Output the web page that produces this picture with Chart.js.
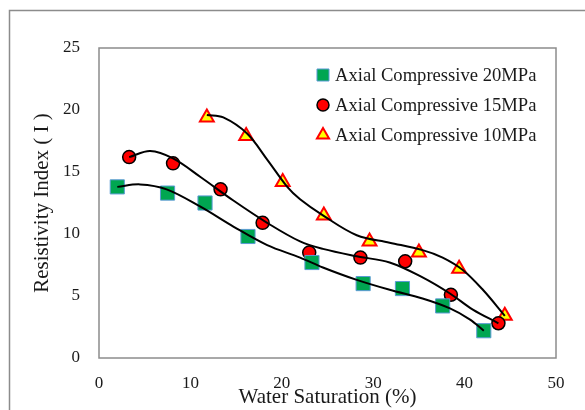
<!DOCTYPE html>
<html>
<head>
<meta charset="utf-8">
<script src="https://cdn.jsdelivr.net/npm/chart.js@4"></script>
<style>
  html, body { margin: 0; padding: 0; background: #fff; overflow: hidden; }
  #wrap { width: 585px; height: 410px; }
  canvas { display: block; }
</style>
</head>
<body>
<div id="wrap"><canvas id="chart" width="585" height="410"></canvas></div>
<script>
// measured points (water saturation %, resistivity index)
const seriesLabels = ['Axial Compressive 20MPa', 'Axial Compressive 15MPa', 'Axial Compressive 10MPa'];

const sw20 = [2.0, 7.5, 11.6, 16.3, 23.3, 28.9, 33.2, 37.6, 42.1];
const ri20 = [13.8, 13.3, 12.5, 9.8, 7.7, 6.0, 5.6, 4.2, 2.2];

const sw15 = [3.3, 8.1, 13.3, 17.9, 23.0, 28.6, 33.5, 38.5, 43.7];
const ri15 = [16.2, 15.7, 13.6, 10.9, 8.5, 8.1, 7.8, 5.1, 2.8];

const sw10 = [11.8, 16.1, 20.1, 24.6, 29.6, 35.0, 39.4, 44.4];
const ri10 = [19.4, 17.9, 14.2, 11.5, 9.4, 8.5, 7.2, 3.4];

// trend curves
const fit20X = [2.0, 4.5, 7.4, 11.1, 14.7, 18.4, 22.0, 24.5, 28.2, 31.8, 35.4, 38.4, 40.6, 42.1];
const fit20Y = [13.8, 14.0, 13.6, 12.2, 10.6, 9.1, 8.1, 7.3, 6.3, 5.5, 4.8, 4.0, 3.1, 2.2];

const fit15X = [3.3, 5.6, 8.1, 11.1, 14.7, 18.4, 22.0, 24.5, 28.2, 31.8, 35.4, 38.4, 40.9, 43.7];
const fit15Y = [16.2, 16.7, 16.1, 14.6, 12.7, 10.9, 9.4, 8.8, 8.2, 7.7, 6.5, 5.2, 3.9, 2.8];

const fit10X = [11.8, 13.6, 16.2, 18.4, 20.6, 22.0, 24.5, 28.2, 31.8, 35.4, 37.6, 39.8, 42.0, 44.4];
const fit10Y = [19.6, 19.4, 18.1, 16.0, 13.8, 12.8, 11.5, 9.9, 9.3, 8.7, 8.1, 7.1, 5.5, 3.4];

const xTicks = [0, 10, 20, 30, 40, 50];
const yTicks = [0, 5, 10, 15, 20, 25];

const serif = '"Liberation Serif", "Times New Roman", serif';

const pairs = (xs, ys) => xs.map((x, i) => ({ x: x, y: ys[i] }));

const markerStyles = [
    { pointStyle: 'rect', radius: 10, legendRadius: 8.5, fill: '#00a651', stroke: '#5b9bd5', width: 1 },
    { pointStyle: 'circle', radius: 6.5, legendRadius: 6, fill: '#ff0000', stroke: '#000000', width: 1.5 },
    { pointStyle: 'triangle', radius: 8, legendRadius: 7, fill: '#ffff00', stroke: '#ff0000', width: 2 }
];

function pointSet(label, xs, ys, m) {
    return {
        label: label,
        data: pairs(xs, ys),
        showLine: false,
        pointStyle: m.pointStyle,
        pointRadius: m.radius,
        backgroundColor: m.fill,
        borderColor: m.stroke,
        borderWidth: m.width,
        order: 1
    };
}

function curveSet(xs, ys) {
    return {
        label: 'trend',
        data: pairs(xs, ys),
        showLine: true,
        pointRadius: 0,
        borderColor: '#000000',
        borderWidth: 2,
        tension: 0.35,
        order: 0
    };
}

const framePlugin = {
    id: 'frame',
    beforeDatasetsDraw(chart) {
        const { ctx, chartArea: a } = chart;
        ctx.save();
        ctx.strokeStyle = '#8c8c8c';
        ctx.lineWidth = 1.5;
        ctx.strokeRect(a.left, a.top, a.right - a.left, a.bottom - a.top);
        // outer picture frame, open on the right and bottom
        ctx.beginPath();
        ctx.moveTo(9.5, 412);
        ctx.lineTo(9.5, 10.5);
        ctx.lineTo(585, 10.5);
        ctx.stroke();
        ctx.restore();
    }
};

const legendPlugin = {
    id: 'sideLegend',
    afterDraw(chart) {
        const { ctx, chartArea: a } = chart;
        const mx = a.left + 224;
        const tx = a.left + 236;
        ctx.save();
        seriesLabels.forEach((label, i) => {
            const m = markerStyles[i];
            const y = a.top + 27 + i * 30;
            ctx.fillStyle = m.fill;
            ctx.strokeStyle = m.stroke;
            ctx.lineWidth = m.width;
            Chart.helpers.drawPoint(ctx, { pointStyle: m.pointStyle, radius: m.legendRadius, rotation: 0, borderWidth: m.width }, mx, y);
            ctx.fillStyle = '#1a1a1a';
            ctx.font = '18.6px ' + serif;
            ctx.textAlign = 'left';
            ctx.textBaseline = 'middle';
            ctx.fillText(label, tx, y + 1);
        });
        ctx.restore();
    }
};

new Chart(document.getElementById('chart'), {
    type: 'scatter',
    data: {
        datasets: [
            curveSet(fit20X, fit20Y),
            curveSet(fit15X, fit15Y),
            curveSet(fit10X, fit10Y),
            pointSet(seriesLabels[0], sw20, ri20, markerStyles[0]),
            pointSet(seriesLabels[1], sw15, ri15, markerStyles[1]),
            pointSet(seriesLabels[2], sw10, ri10, markerStyles[2])
        ]
    },
    options: {
        responsive: false,
        animation: false,
        events: [],
        layout: { padding: { top: 48, right: 29, left: 0, bottom: 0 } },
        plugins: {
            legend: { display: false },
            tooltip: { enabled: false }
        },
        scales: {
            x: {
                type: 'linear',
                min: xTicks[0],
                max: xTicks[xTicks.length - 1],
                afterBuildTicks: s => { s.ticks = xTicks.map(v => ({ value: v })); },
                afterFit: s => { s.height = 52; },
                grid: { display: false, drawTicks: false },
                border: { display: false },
                ticks: { padding: 15, color: '#1a1a1a', font: { family: serif, size: 17 } },
                title: {
                    display: true,
                    text: 'Water Saturation (%)',
                    color: '#1a1a1a',
                    font: { family: serif, size: 21 },
                    padding: { top: 0, bottom: 0 }
                }
            },
            y: {
                type: 'linear',
                min: yTicks[0],
                max: yTicks[yTicks.length - 1],
                afterBuildTicks: s => { s.ticks = yTicks.map(v => ({ value: v })); },
                afterFit: s => { s.width = 99; },
                grid: { display: false, drawTicks: false },
                border: { display: false },
                ticks: { padding: 19, color: '#1a1a1a', font: { family: serif, size: 17 } },
                title: {
                    display: true,
                    text: 'Resistivity Index ( I )',
                    color: '#1a1a1a',
                    font: { family: serif, size: 21 },
                    padding: { top: 30, bottom: 0 }
                }
            }
        }
    },
    plugins: [framePlugin, legendPlugin]
});
</script>
</body>
</html>
